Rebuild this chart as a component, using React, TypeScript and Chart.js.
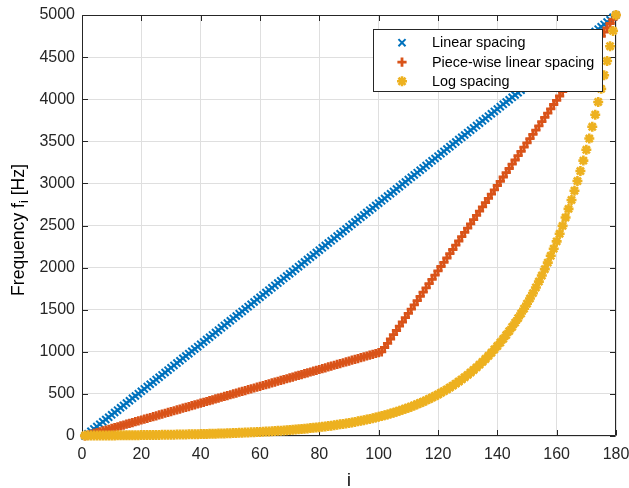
import React, { useEffect, useRef } from "react";
import { Chart, registerables } from "chart.js";
import { drawPoint } from "chart.js/helpers";

Chart.register(...registerables);

// Frequency f_i [Hz] for i = 1..180 under three spacing schemes.
const LINEAR_SPACING = [
  0, 28, 56, 84, 112, 140, 168, 196, 223, 251,
  279, 307, 335, 363, 391, 419, 447, 475, 503, 531,
  559, 587, 615, 642, 670, 698, 726, 754, 782, 810,
  838, 866, 894, 922, 950, 978, 1006, 1034, 1061, 1089,
  1117, 1145, 1173, 1201, 1229, 1257, 1285, 1313, 1341, 1369,
  1397, 1425, 1453, 1480, 1508, 1536, 1564, 1592, 1620, 1648,
  1676, 1704, 1732, 1760, 1788, 1816, 1844, 1872, 1899, 1927,
  1955, 1983, 2011, 2039, 2067, 2095, 2123, 2151, 2179, 2207,
  2235, 2263, 2291, 2318, 2346, 2374, 2402, 2430, 2458, 2486,
  2514, 2542, 2570, 2598, 2626, 2654, 2682, 2709, 2737, 2765,
  2793, 2821, 2849, 2877, 2905, 2933, 2961, 2989, 3017, 3045,
  3073, 3101, 3128, 3156, 3184, 3212, 3240, 3268, 3296, 3324,
  3352, 3380, 3408, 3436, 3464, 3492, 3520, 3547, 3575, 3603,
  3631, 3659, 3687, 3715, 3743, 3771, 3799, 3827, 3855, 3883,
  3911, 3939, 3966, 3994, 4022, 4050, 4078, 4106, 4134, 4162,
  4190, 4218, 4246, 4274, 4302, 4330, 4358, 4385, 4413, 4441,
  4469, 4497, 4525, 4553, 4581, 4609, 4637, 4665, 4693, 4721,
  4749, 4777, 4804, 4832, 4860, 4888, 4916, 4944, 4972, 5000,
];

const PIECEWISE_SPACING = [
  0, 10, 20, 30, 40, 50, 60, 70, 80, 90,
  100, 110, 120, 130, 140, 150, 160, 170, 180, 190,
  200, 210, 220, 230, 240, 250, 260, 270, 280, 290,
  300, 310, 320, 330, 340, 350, 360, 370, 380, 390,
  400, 410, 420, 430, 440, 450, 460, 470, 480, 490,
  500, 510, 520, 530, 540, 550, 560, 570, 580, 590,
  600, 610, 620, 630, 640, 650, 660, 670, 680, 690,
  700, 710, 720, 730, 740, 750, 760, 770, 780, 790,
  800, 810, 820, 830, 840, 850, 860, 870, 880, 890,
  900, 910, 920, 930, 940, 950, 960, 970, 980, 990,
  1000, 1051, 1101, 1152, 1203, 1253, 1304, 1354, 1405, 1456,
  1506, 1557, 1608, 1658, 1709, 1759, 1810, 1861, 1911, 1962,
  2013, 2063, 2114, 2165, 2215, 2266, 2316, 2367, 2418, 2468,
  2519, 2570, 2620, 2671, 2722, 2772, 2823, 2873, 2924, 2975,
  3025, 3076, 3127, 3177, 3228, 3278, 3329, 3380, 3430, 3481,
  3532, 3582, 3633, 3684, 3734, 3785, 3835, 3886, 3937, 3987,
  4038, 4089, 4139, 4190, 4241, 4291, 4342, 4392, 4443, 4494,
  4544, 4595, 4646, 4696, 4747, 4797, 4848, 4899, 4949, 5000,
];

const LOG_SPACING = [
  5.0, 5.2, 5.4, 5.6, 5.8, 6.1, 6.3, 6.6, 6.8, 7.1,
  7.4, 7.6, 7.9, 8.3, 8.6, 8.9, 9.3, 9.6, 10.0, 10.4,
  10.8, 11.2, 11.7, 12.1, 12.6, 13.1, 13.6, 14.2, 14.7, 15.3,
  15.9, 16.5, 17.2, 17.9, 18.6, 19.3, 20.1, 20.8, 21.7, 22.5,
  23.4, 24.3, 25.3, 26.3, 27.3, 28.4, 29.5, 30.7, 31.9, 33.1,
  34.4, 35.8, 37.2, 38.7, 40.2, 41.8, 43.4, 45.1, 46.9, 48.7,
  50.6, 52.6, 54.7, 56.9, 59.1, 61.4, 63.8, 66.4, 69.0, 71.7,
  74.5, 77.4, 80.5, 83.6, 86.9, 90.4, 93.9, 97.6, 101.4, 105.4,
  109.6, 113.9, 118.4, 123.0, 127.9, 132.9, 138.1, 143.6, 149.2, 155.1,
  161.2, 167.5, 174.1, 181.0, 188.1, 195.5, 203.2, 211.2, 219.5, 228.1,
  237.1, 246.4, 256.1, 266.2, 276.7, 287.6, 298.9, 310.6, 322.9, 335.6,
  348.8, 362.5, 376.8, 391.6, 407.0, 423.0, 439.6, 456.9, 474.9, 493.6,
  513.0, 533.2, 554.2, 576.0, 598.7, 622.2, 646.7, 672.1, 698.6, 726.1,
  754.6, 784.3, 815.2, 847.3, 880.6, 915.2, 951.3, 988.7, 1028, 1068,
  1110, 1154, 1199, 1246, 1295, 1346, 1399, 1454, 1512, 1571,
  1633, 1697, 1764, 1834, 1906, 1981, 2059, 2140, 2224, 2311,
  2402, 2496, 2595, 2697, 2803, 2913, 3028, 3147, 3271, 3399,
  3533, 3672, 3816, 3967, 4123, 4285, 4453, 4629, 4811, 5000,
];

const SERIES_NAMES = ["Linear spacing", "Piece-wise linear spacing", "Log spacing"];
const X_TICKS = [0, 20, 40, 60, 80, 100, 120, 140, 160, 180];
const Y_TICKS = [0, 500, 1000, 1500, 2000, 2500, 3000, 3500, 4000, 4500, 5000];

const FONT_FAMILY = '"Liberation Sans", Arial, Helvetica, sans-serif';
const AXIS_COLOR = "#262626";
const GRID_COLOR = "#dfdfdf";

const MARKERS = [
  { color: "#0072BD", style: "crossRot", radius: 5, width: 2 },
  { color: "#D95319", style: "cross", radius: 4.6, width: 2.8 },
  { color: "#EDB120", style: "star", radius: 5, width: 2.6 },
];

const toPoints = (values: number[]) => values.map((y, k) => ({ x: k + 1, y }));

// Box around the axes with inward-pointing ticks on all four sides.
const axesBoxPlugin = {
  id: "axesBox",
  beforeDatasetsDraw(chart: any) {
    const { ctx, chartArea } = chart;
    const xs = chart.scales.x;
    const ys = chart.scales.y;
    const L = Math.round(chartArea.left) + 0.5;
    const R = Math.round(chartArea.right) - 0.5;
    const T = Math.round(chartArea.top) + 0.5;
    const B = Math.round(chartArea.bottom) - 0.5;
    const tick = 5.5;
    ctx.save();
    ctx.strokeStyle = AXIS_COLOR;
    ctx.lineWidth = 1;
    ctx.beginPath();
    ctx.rect(L, T, R - L, B - T);
    for (const v of X_TICKS) {
      const px = Math.round(xs.getPixelForValue(v)) + 0.5;
      ctx.moveTo(px, B);
      ctx.lineTo(px, B - tick);
      ctx.moveTo(px, T);
      ctx.lineTo(px, T + tick);
    }
    for (const v of Y_TICKS) {
      const py = Math.round(ys.getPixelForValue(v)) + 0.5;
      ctx.moveTo(L, py);
      ctx.lineTo(L + tick, py);
      ctx.moveTo(R, py);
      ctx.lineTo(R - tick, py);
    }
    ctx.stroke();
    ctx.restore();
  },
};

// Axis titles, with the subscript in the y label.
const axisTitlesPlugin = {
  id: "axisTitles",
  afterDraw(chart: any) {
    const { ctx, chartArea } = chart;
    const size = 17.6;
    ctx.save();
    ctx.fillStyle = "#000000";
    ctx.textBaseline = "alphabetic";

    // x label
    ctx.font = `${size}px ${FONT_FAMILY}`;
    ctx.textAlign = "center";
    ctx.fillText("i", (chartArea.left + chartArea.right) / 2, 486);

    // y label, rotated
    const partA = "Frequency f";
    const sub = "i";
    const partB = " [Hz]";
    const subSize = 12.5;
    ctx.font = `${size}px ${FONT_FAMILY}`;
    const wA = ctx.measureText(partA).width;
    const wB = ctx.measureText(partB).width;
    ctx.font = `${subSize}px ${FONT_FAMILY}`;
    const wS = ctx.measureText(sub).width;
    const total = wA + wS + wB;
    ctx.translate(24, 230);
    ctx.rotate(-Math.PI / 2);
    ctx.textAlign = "left";
    let x = -total / 2;
    ctx.font = `${size}px ${FONT_FAMILY}`;
    ctx.fillText(partA, x, 0);
    x += wA;
    ctx.font = `${subSize}px ${FONT_FAMILY}`;
    ctx.fillText(sub, x, 4);
    x += wS;
    ctx.font = `${size}px ${FONT_FAMILY}`;
    ctx.fillText(partB, x, 0);
    ctx.restore();
  },
};

// Legend box drawn inside the upper-right part of the axes.
const boxLegendPlugin = {
  id: "boxLegend",
  afterDraw(chart: any) {
    const { ctx } = chart;
    const left = 373.5;
    const top = 29.5;
    const width = 229;
    const height = 62;
    const rows = [42.7, 62.2, 81.3];
    ctx.save();
    ctx.fillStyle = "#ffffff";
    ctx.fillRect(left, top, width, height);
    ctx.strokeStyle = AXIS_COLOR;
    ctx.lineWidth = 1;
    ctx.strokeRect(left, top, width, height);
    ctx.font = `14.4px ${FONT_FAMILY}`;
    ctx.textAlign = "left";
    ctx.textBaseline = "middle";
    SERIES_NAMES.forEach((name, k) => {
      const m = MARKERS[k];
      ctx.strokeStyle = m.color;
      ctx.fillStyle = m.color;
      ctx.lineWidth = m.width;
      drawPoint(ctx, { pointStyle: m.style, radius: m.radius, borderWidth: m.width, rotation: 0 } as any, 402, rows[k]);
      ctx.fillStyle = "#000000";
      ctx.fillText(name, 432, rows[k] + 0.5);
    });
    ctx.restore();
  },
};

export default function App() {
  const canvasRef = useRef<HTMLCanvasElement | null>(null);

  useEffect(() => {
    const canvas = canvasRef.current;
    if (!canvas) return;
    const series = [LINEAR_SPACING, PIECEWISE_SPACING, LOG_SPACING];
    const chart = new Chart(canvas, {
      type: "scatter",
      data: {
        datasets: series.map((values, k) => ({
          label: SERIES_NAMES[k],
          data: toPoints(values),
          showLine: false,
          pointStyle: MARKERS[k].style as any,
          pointRadius: MARKERS[k].radius,
          pointBorderWidth: MARKERS[k].width,
          borderColor: MARKERS[k].color,
          backgroundColor: MARKERS[k].color,
          clip: false as any,
          order: 2 - k,
        })),
      },
      options: {
        animation: false,
        responsive: false,
        maintainAspectRatio: false,
        events: [],
        layout: { padding: { top: 15, right: 13, left: 0, bottom: 0 } },
        plugins: {
          legend: { display: false },
          tooltip: { enabled: false },
        },
        scales: {
          x: {
            type: "linear",
            min: 0,
            max: 180,
            afterBuildTicks: (s: any) => {
              s.ticks = X_TICKS.map((value) => ({ value }));
            },
            afterFit: (s: any) => {
              s.height = 52;
              s.paddingLeft = 0;
              s.paddingRight = 0;
            },
            grid: { color: GRID_COLOR, lineWidth: 1, drawTicks: false },
            border: { display: false },
            ticks: {
              autoSkip: false,
              maxRotation: 0,
              padding: 9,
              color: AXIS_COLOR,
              font: { family: FONT_FAMILY, size: 16 },
              callback: (v: any) => String(v),
            },
          },
          y: {
            type: "linear",
            min: 0,
            max: 5000,
            afterBuildTicks: (s: any) => {
              s.ticks = Y_TICKS.map((value) => ({ value }));
            },
            afterFit: (s: any) => {
              s.width = 82;
              s.paddingTop = 0;
              s.paddingBottom = 0;
            },
            grid: { color: GRID_COLOR, lineWidth: 1, drawTicks: false },
            border: { display: false },
            ticks: {
              autoSkip: false,
              padding: 7,
              color: AXIS_COLOR,
              font: { family: FONT_FAMILY, size: 16 },
              callback: (v: any) => String(v),
            },
          },
        },
      },
      plugins: [axesBoxPlugin, axisTitlesPlugin, boxLegendPlugin],
    });
    return () => chart.destroy();
  }, []);

  return (
    <div style={{ position: "fixed", left: 0, top: 0, width: 629, height: 488, background: "#ffffff" }}>
      <canvas ref={canvasRef} width={629} height={488} style={{ width: 629, height: 488, display: "block" }} />
    </div>
  );
}
